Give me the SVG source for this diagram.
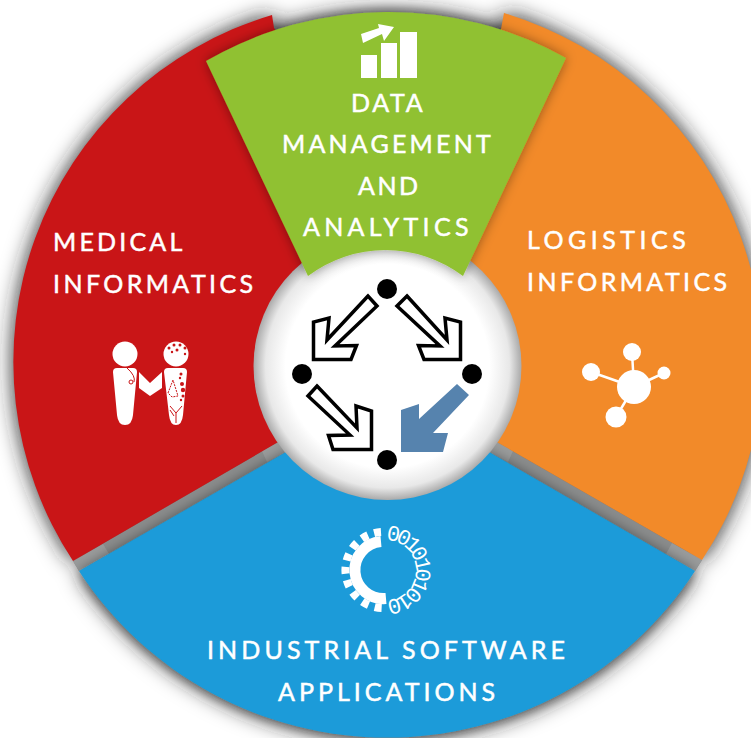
<svg xmlns="http://www.w3.org/2000/svg" width="751" height="738" viewBox="0 0 751 738">
<defs>
<filter id="sh" x="-20%" y="-20%" width="140%" height="140%"><feGaussianBlur stdDeviation="11"/></filter>
<filter id="ds" x="-20%" y="-20%" width="140%" height="140%"><feDropShadow dx="0" dy="0" stdDeviation="6" flood-color="#000" flood-opacity=".4"/></filter>
<radialGradient id="rim" cx="387.500" cy="366" r="134" gradientUnits="userSpaceOnUse">
<stop offset="0" stop-color="#fff"/><stop offset=".76" stop-color="#fff"/><stop offset=".91" stop-color="#e8e8e8"/><stop offset="1" stop-color="#aaa"/>
</radialGradient>
<path id="pr" d="M272 15A362 362 0 0 0 73 561L280 441L388 200L274 28Z"/>
<path id="po" d="M504 13A362 362 0 0 1 702 560L495 441L388 200L501 29Z"/>
<path id="pb" d="M79 571L286 452L489 452L695 571A368 368 0 0 1 79 571Z"/>
<path id="pg" d="M206 61A365 365 0 0 1 566 58L463 276A128.500 128.500 0 0 0 308 276Z"/>
</defs>
<style>
.t{font-family:"Lato","Liberation Sans",sans-serif;font-size:25px;fill:#fff;stroke:#fff;stroke-width:.5px}
.o{fill:#fff;stroke:#000;stroke-width:3.500}
.w{fill:#fff}
.b{font-family:"Liberation Mono",monospace;font-size:22px;fill:#fff;letter-spacing:-4.200px}
.r{fill:#c91517}
.l{fill:none;stroke:#c91517;stroke-width:1}
</style>
<rect width="751" height="738" fill="#fff"/>
<g id="shadow" fill="#222" filter="url(#sh)"><use href="#pr"/><use href="#po"/><use href="#pb"/><use href="#pg"/></g>
<g id="gaps" fill="#8a8c8c">
<path d="M73 561L280 441L286 452L79 571Z"/>
<path d="M495 441L702 560L695 571L489 452Z"/>
<path d="M73 561L103 544L109 554L79 571Z" fill="#999b9b"/>
<path d="M280 441L262 451L267 462L286 452Z" fill="#999b9b"/>
<path d="M495 441L513 451L508 462L489 452Z" fill="#999b9b"/>
<path d="M702 560L672 543L666 554L695 571Z" fill="#999b9b"/>
</g>
<g id="medical">
<use href="#pr" fill="#c91517"/>
<text class="t" x="53" y="251" style="letter-spacing:3.200px">MEDICAL</text>
<text class="t" x="53" y="293" style="letter-spacing:3.400px">INFORMATICS</text>
<g class="w"><circle cx="125" cy="354" r="12.500"/><path d="M113 372q0-4 4-4h16q4 0 4 4L133 415q-1 10-8 10t-8-10Z"/><circle cx="176" cy="354" r="12.500"/><path d="M164 372q0-4 4-4h15q4 0 4 4L183 415q-1 10-7 10t-7-10Z"/><path d="M139 372L150 383L162 372V388L150 396L139 388Z"/></g>
<path d="M127 368Q136 376 134 382" class="l"/><circle cx="131" cy="382" r="2" class="l"/>
<g class="r"><circle cx="169" cy="348" r="1.500"/><circle cx="174" cy="345" r="1.500"/><circle cx="180" cy="345" r="1.500"/><circle cx="185" cy="348" r="1.500"/><circle cx="177" cy="350" r="1.500"/><circle cx="172" cy="352" r="1.200"/><circle cx="185" cy="354" r="1.200"/><circle cx="181" cy="374" r="1.500"/><circle cx="180" cy="378" r="1.200"/><circle cx="182" cy="384" r="2"/><circle cx="183" cy="390" r="2.200"/><circle cx="183" cy="396" r="1.500"/><circle cx="181" cy="400" r="1.200"/></g>
<path class="l" stroke-dasharray="2 1" d="M173 380L168 393L172 397L178 396Z"/>
<path class="l" d="M170 406L176 413V423M182 406L176 413M170 410L174 416"/>
</g>
<g id="logistics">
<use href="#po" fill="#f28a29"/>
<text class="t" x="527" y="249" style="letter-spacing:4.500px">LOGISTICS</text>
<text class="t" x="527" y="291" style="letter-spacing:3.400px">INFORMATICS</text>
<path stroke="#fff" stroke-width="2.500" d="M634 387L632 352M634 387L591 372M634 387L664 373M634 387L616 417"/>
<g class="w"><circle cx="634" cy="387" r="17"/><circle cx="632" cy="352" r="9"/><circle cx="591" cy="372" r="9"/><circle cx="664" cy="373" r="6.500"/><circle cx="616" cy="417" r="10.500"/></g>
</g>
<g id="industrial">
<use href="#pb" fill="#1a9bd9" filter="url(#ds)"/>
<text class="t" x="207" y="659" style="letter-spacing:4.100px">INDUSTRIAL SOFTWARE</text>
<text class="t" x="278" y="701" style="letter-spacing:4px">APPLICATIONS</text>
<path d="M381 541.500A28.500 28.500 0 0 0 386 598.500" fill="none" stroke="#fff" stroke-width="11"/>
<path d="M381 532A38 38 0 0 0 386 608" fill="none" stroke="#fff" stroke-width="8" stroke-dasharray="7 6.500"/>
<path id="bin" d="M386 540A30 30 0 0 1 386 600" fill="none"/>
<text class="b"><textPath href="#bin">0010101010</textPath></text>
</g>
<g id="hub"><circle cx="387.500" cy="366" r="134" fill="url(#rim)"/></g>
<g id="data">
<use href="#pg" fill="#90c130" filter="url(#ds)"/>
<text class="t" x="351" y="112" style="letter-spacing:2.700px">DATA</text>
<text class="t" x="282" y="153" style="letter-spacing:3.200px">MANAGEMENT</text>
<text class="t" x="358" y="195" style="letter-spacing:2.500px">AND</text>
<text class="t" x="303" y="236" style="letter-spacing:4.300px">ANALYTICS</text>
<g class="w"><rect x="361" y="55" width="16" height="23"/><rect x="381" y="43" width="16" height="35"/><rect x="400" y="32" width="17" height="46"/><path d="M361 34L379 28L378 24L394 27L384 41L382 34L363 43Z"/></g>
</g>
<g id="connectors">
<path class="o" d="M368 296L327 340L329 318L313.500 322V359.500H351L356.500 345.500L335 346L377 306Z"/>
<path class="o" d="M407 296L447 340L445 318L460.500 322V359.500H424L418.500 345.500L440 346L397 306Z"/>
<path class="o" d="M317 386L357 428L356 406L371.500 411V449.500H333L328.500 435.500L350 435L308 396Z"/>
<path d="M457 384L469 395L433 433L448 433L443 452L401 452L401 410L419 404L419 419Z" fill="#5683ae"/>
</g>
<g id="points"><circle cx="387" cy="289" r="10"/><circle cx="302" cy="374" r="10"/><circle cx="472" cy="374" r="10"/><circle cx="387" cy="460" r="10"/></g>
</svg>
